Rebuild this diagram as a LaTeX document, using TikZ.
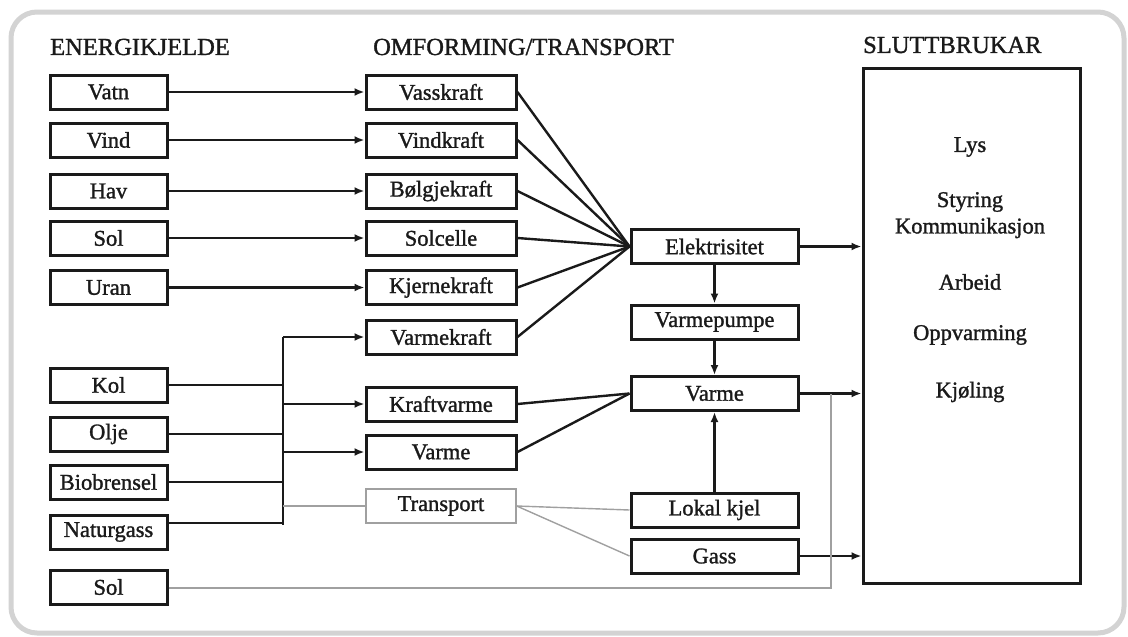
\documentclass[tikz,border=0pt]{standalone}
\usepackage{fontspec}
\setmainfont{Liberation Serif}[BoldFont=Liberation Serif, BoldFeatures={FakeBold=1.3}]
\usetikzlibrary{arrows.meta}
\definecolor{framegray}{HTML}{D3D3D3}
\definecolor{linegray}{HTML}{A0A0A0}
\definecolor{ink}{HTML}{1A1A1A}
\tikzset{
  lbl/.style={font=\fontsize{22.5}{26}\selectfont\bfseries, text=ink, inner sep=0pt},
  hdr/.style={font=\fontsize{24.5}{28}\selectfont\bfseries, text=ink, inner sep=0pt, anchor=west},
  box/.style={lbl, draw=ink, line width=3pt, minimum height=34pt},
  srcbox/.style={box, minimum width=117pt},
  midbox/.style={box, minimum width=150pt},
  rbox/.style={box, minimum width=167pt},
  graybox/.style={lbl, draw=linegray, line width=1.4pt, minimum height=34pt, minimum width=150pt},
  conn/.style={draw=ink, line width=2.4pt},
  arr/.style={conn, -{Latex[length=10pt,width=8pt]}},
  gconn/.style={draw=linegray, line width=1.4pt},
}
\begin{document}
\begin{tikzpicture}[x=1pt,y=-1pt]
\useasboundingbox (0,0) rectangle (1128,637);
\fill[white] (0,0) rectangle (1128,637);
\draw[framegray, line width=5pt, rounded corners=26pt] (11,12) rectangle (1124,633);

% headers
\node[hdr] (h1) at (50,47) {ENERGIKJELDE};
\node[hdr] (h2) at (373,47) {OMFORMING/TRANSPORT};
\node[hdr] (h3) at (863,45) {SLUTTBRUKAR};

% sources
\node[srcbox] (vatn) at (108.5,92) {Vatn};
\node[srcbox] (vind) at (108.5,140) {Vind};
\node[srcbox] (hav) at (108.5,191) {Hav};
\node[srcbox] (sol) at (108.5,238) {Sol};
\node[srcbox] (uran) at (108.5,287.5) {Uran};
\node[srcbox] (kol) at (108.5,385) {Kol};
\node[srcbox] (olje) at (108.5,434) {Olje};
\node[srcbox] (bio) at (108.5,482) {Biobrensel};
\node[srcbox] (ngass) at (108.5,532) {Naturgass};
\node[srcbox] (sol2) at (108.5,587) {Sol};

% conversion
\node[midbox] (vass) at (441,92) {Vasskraft};
\node[midbox] (vindk) at (441,140) {Vindkraft};
\node[midbox] (bolg) at (441,191) {Bølgjekraft};
\node[midbox] (solc) at (441,238) {Solcelle};
\node[midbox] (kjern) at (441,287.5) {Kjernekraft};
\node[midbox] (varmek) at (441,337) {Varmekraft};
\node[midbox] (kraftv) at (441,404) {Kraftvarme};
\node[midbox] (varme1) at (441,452) {Varme};
\node[graybox] (transp) at (441,506) {Transport};

% carriers
\node[rbox] (el) at (714.5,246.5) {Elektrisitet};
\node[rbox] (vp) at (714.5,322) {Varmepumpe};
\node[rbox] (varme2) at (714.5,393.5) {Varme};
\node[rbox] (lokal) at (714.5,510) {Lokal kjel};
\node[rbox] (gass) at (714.5,556) {Gass};

% end users
\node[draw=ink, line width=3pt, minimum width=217pt, minimum height=515pt, inner sep=0pt] (slutt) at (971.5,325.5) {};
\node[lbl] (lys) at (970,147) {Lys};
\node[lbl] (styr) at (970,202) {Styring};
\node[lbl] (komm) at (970,228) {Kommunikasjon};
\node[lbl] (arb) at (970,282) {Arbeid};
\node[lbl] (oppv) at (970,335) {Oppvarming};
\node[lbl] (kjol) at (970,392) {Kjøling};

% source to conversion arrows
\draw[arr] (vatn.east) -- (vass.west);
\draw[arr] (vind.east) -- (vindk.west);
\draw[arr] (hav.east) -- (bolg.west);
\draw[arr] (sol.east) -- (solc.west);
\draw[arr] (uran.east) -- (kjern.west);

% fossil bus
\coordinate (bus) at (283,337);
\coordinate (busbot) at (283,525);
\draw[conn] (bus) -- (busbot);
\draw[conn] (kol.east) -- (kol.east -| bus);
\draw[conn] (olje.east) -- (olje.east -| bus);
\draw[conn] (bio.east) -- (bio.east -| bus);
\draw[conn] ([yshift=9pt]ngass.east) -- ([yshift=9pt]ngass.east -| bus);
\draw[arr] (bus) -- (varmek.west);
\draw[arr] (kraftv.west -| bus) -- (kraftv.west);
\draw[arr] (varme1.west -| bus) -- (varme1.west);
\draw[gconn] (transp.west -| bus) -- (transp.west);

% to Elektrisitet
\foreach \n in {vass,vindk,bolg,solc,kjern,varmek}
  \draw[conn] (\n.east) -- (el.west);
% to Varme
\draw[conn] (kraftv.east) -- (varme2.west);
\draw[conn] (varme1.east) -- (varme2.west);
% transport
\draw[gconn] (transp.east) -- (lokal.west);
\draw[gconn] (transp.east) -- (gass.west);

% vertical arrows
\draw[arr] (el.south) -- (vp.north);
\draw[arr] (vp.south) -- (varme2.north);
\draw[arr] (lokal.north) -- (varme2.south);

% to end users
\draw[arr] (el.east) -- (el.east -| slutt.west);
\draw[arr] (varme2.east) -- (varme2.east -| slutt.west);
\draw[arr] (gass.east) -- (gass.east -| slutt.west);

% direct solar
\coordinate (solturn) at (831,588);
\draw[gconn] (sol2.east |- solturn) -- (solturn) -- (solturn |- varme2.east);
\end{tikzpicture}
\end{document}
